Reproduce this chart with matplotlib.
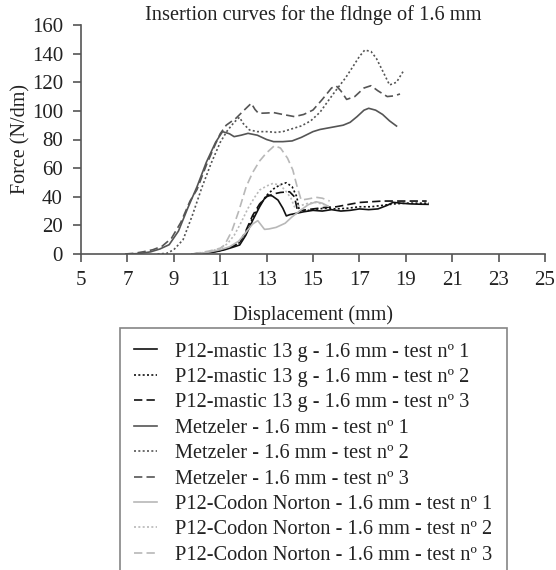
import matplotlib
matplotlib.use("Agg")
import matplotlib.pyplot as plt

plt.rcParams['font.family'] = ['Liberation Serif', 'DejaVu Serif']

# Metzeler - 1.6 mm
metz1_x = [7.0, 7.5, 8.0, 8.4, 8.8, 9.2, 9.6, 10.0, 10.4, 10.8, 11.1, 11.4, 11.6, 11.9, 12.2, 12.6, 13.0, 13.3,
           13.7, 14.1, 14.5, 15.0, 15.3, 15.8, 16.3, 16.6, 16.9, 17.2, 17.4, 17.7, 18.0, 18.3, 18.6]
metz1_y = [0, 0.3, 1.5, 3.5, 6.5, 16, 32, 47, 64, 78, 85.5, 84, 82, 83, 84.3, 83, 80, 78.5,
           78.5, 79, 81.5, 85.5, 87, 88.5, 90, 92, 96, 100.5, 101.8, 100.5, 97.5, 93, 89.4]
metz2_x = [8.3, 8.7, 9.0, 9.4, 9.8, 10.2, 10.6, 11.0, 11.3, 11.6, 11.83, 12.0, 12.26, 12.6, 13.0, 13.4, 13.7,
           14.1, 14.5, 14.9, 15.3, 15.7, 16.0, 16.4, 16.72, 17.0, 17.23, 17.5, 17.73, 18.0, 18.3, 18.6, 18.88]
metz2_y = [0, 0.5, 3, 10, 27, 46, 63, 78, 86, 92, 95.5, 91, 86.7, 85.5, 85.5, 85, 85.5,
           87.5, 89.5, 93, 99, 108, 114.6, 123, 130.9, 138, 142.5, 141.5, 136.7, 128, 118.1, 120, 127.4]
metz3_x = [6.9, 7.3, 7.7, 8.1, 8.5, 8.9, 9.3, 9.7, 10.0, 10.4, 10.8, 11.0, 11.26, 11.69, 12.0, 12.34, 12.5,
           12.65, 13.0, 13.3, 13.7, 14.2, 14.6, 15.0, 15.4, 15.8, 16.0, 16.2, 16.45, 16.8, 17.2, 17.5, 17.8,
           18.2, 18.5, 18.75]
metz3_y = [0, 0.5, 1.6, 3, 5.5, 11, 22, 37, 45, 62, 77, 84, 90, 95, 100, 105.3, 101,
           98.3, 98.5, 98.8, 97.5, 96, 97.5, 100.6, 108, 116, 117.5, 114, 108, 110, 116, 117.6, 114,
           110, 110.5, 111.8]

# P12-mastic 13 g - 1.6 mm
mast1_x = [9.8, 10.3, 10.8, 11.2, 11.5, 11.84, 12.1, 12.41, 12.7, 12.9, 13.06, 13.25, 13.49, 13.7, 13.85, 14.0,
           14.28, 14.6, 15.0, 15.4, 15.8, 16.2, 16.6, 17.0, 17.4, 17.8, 18.2, 18.45, 18.8, 19.2, 19.6, 19.96]
mast1_y = [0, 0.5, 1.5, 3, 4.5, 6.3, 13, 23.8, 33, 38.5, 41.2, 40.5, 37.7, 32, 26.6, 27.5,
           28.4, 29.5, 30.5, 30, 31, 30, 30.5, 31.5, 31, 31.5, 34, 36.1, 35.5, 35, 34.8, 34.7]
mast2_x = [9.8, 10.5, 11.0, 11.5, 11.84, 12.1, 12.4, 12.7, 13.0, 13.3, 13.6, 13.85, 14.1, 14.3, 14.42, 14.6,
           15.0, 15.5, 16.0, 16.5, 17.0, 17.5, 18.0, 18.5, 19.0, 19.5, 20.0]
mast2_y = [0, 1, 2.5, 5, 8, 15, 25, 34, 41, 45.5, 48.5, 49.8, 47, 40, 29.5, 30,
           31, 32, 31.5, 32, 33, 33, 34, 35, 35.5, 35.5, 35.5]
mast3_x = [9.8, 10.5, 11.0, 11.5, 11.84, 12.1, 12.4, 12.7, 13.0, 13.3, 13.6, 13.99, 14.2, 14.35, 14.5,
           15.0, 15.5, 16.0, 16.5, 17.0, 17.5, 18.0, 18.5, 19.0, 19.5, 19.9]
mast3_y = [0, 1, 2.5, 5, 8, 16, 27, 35, 40, 42, 43, 43.5, 40, 29, 30.5,
           31.5, 32.5, 33, 34.5, 36, 36.5, 37, 37, 37, 37, 37]

# P12-Codon Norton - 1.6 mm
codon1_x = [9.8, 10.4, 11.0, 11.4, 11.8, 12.1, 12.4, 12.62, 12.91, 13.1, 13.41, 13.8, 14.1, 14.5, 14.8,
            15.14, 15.4, 15.64]
codon1_y = [0, 1, 3, 5, 9, 15, 21, 23.3, 17.2, 17.5, 18.6, 21.5, 26, 31, 34.5,
            36.5, 35.5, 33.5]
codon2_x = [9.8, 10.5, 11.0, 11.3, 11.6, 11.9, 12.2, 12.5, 12.7, 13.0, 13.27, 13.6, 13.85, 14.05, 14.2,
            14.5, 14.8, 15.1, 15.4, 15.7]
codon2_y = [0, 1.5, 4, 7, 13, 22, 32, 40, 44.7, 47.5, 49.3, 48, 43.5, 39, 33,
            34, 35.5, 36, 35, 33]
codon3_x = [9.8, 10.5, 11.0, 11.19, 11.5, 11.8, 12.12, 12.4, 12.7, 12.98, 13.34, 13.6, 13.9, 14.13, 14.3,
            14.49, 14.8, 15.14, 15.4, 15.72]
codon3_y = [0, 2, 4, 6.3, 16, 30, 47, 57, 65, 70.4, 75.7, 74, 67, 58.7, 48,
            37.7, 38.5, 39.6, 39, 37]

labels = [
    "P12-mastic 13 g - 1.6 mm - test nº 1",
    "P12-mastic 13 g - 1.6 mm - test nº 2",
    "P12-mastic 13 g - 1.6 mm - test nº 3",
    "Metzeler - 1.6 mm - test nº 1",
    "Metzeler - 1.6 mm - test nº 2",
    "Metzeler - 1.6 mm - test nº 3",
    "P12-Codon Norton - 1.6 mm - test nº 1",
    "P12-Codon Norton - 1.6 mm - test nº 2",
    "P12-Codon Norton - 1.6 mm - test nº 3",
]
x_ticks = [5, 7, 9, 11, 13, 15, 17, 19, 21, 23, 25]
y_ticks = [0, 20, 40, 60, 80, 100, 120, 140, 160]

series = [
    (mast1_x, mast1_y), (mast2_x, mast2_y), (mast3_x, mast3_y),
    (metz1_x, metz1_y), (metz2_x, metz2_y), (metz3_x, metz3_y),
    (codon1_x, codon1_y), (codon2_x, codon2_y), (codon3_x, codon3_y),
]
colors = ['#111111'] * 3 + ['#555555'] * 3 + ['#b8b8b8'] * 3
styles = ['-', (0, (1.2, 1.4)), (0, (5, 2.5))] * 3

TXT = '#222222'
W, H = 556, 570
fig = plt.figure(figsize=(W / 100, H / 100), dpi=100)
ax = fig.add_axes([81 / W, 1 - 254 / H, (545 - 81) / W, (254 - 25) / H])

handles = []
for (xs, ys), c, ls, lab in zip(series, colors, styles, labels):
    h, = ax.plot(xs, ys, color=c, linestyle=ls, linewidth=1.2, label=lab)
    handles.append(h)

ax.set_xlim(5, 25)
ax.set_ylim(0, 160)
ax.set_xticks(x_ticks)
ax.set_yticks(y_ticks)
for s in ['top', 'right']:
    ax.spines[s].set_visible(False)
for s in ['left', 'bottom']:
    ax.spines[s].set_color('#555555')
    ax.spines[s].set_linewidth(1.2)
ax.tick_params(axis='both', direction='out', length=6, width=1.2, color='#555555',
               labelsize=15, labelcolor=TXT)
ax.tick_params(axis='x', pad=6)
ax.tick_params(axis='y', pad=7)

ax.set_title("Insertion curves for the fldnge of 1.6 mm", fontsize=14.7, color=TXT, pad=1)
ax.set_xlabel("Displacement (mm)", fontsize=14.5, color=TXT, labelpad=11)
ax.set_ylabel("Force (N/dm)", fontsize=14.5, color=TXT, labelpad=1)

leg = fig.legend(handles=handles, loc='upper left', bbox_to_anchor=(120 / W, 1 - 328 / H),
                 prop={'size': 14.7}, frameon=True, fancybox=False, edgecolor='#666666',
                 handlelength=1.1, handletextpad=0.9, labelspacing=0.3, borderpad=0.7,
                 borderaxespad=0)
leg.get_frame().set_linewidth(1.2)
for t in leg.get_texts():
    t.set_color(TXT)

fig.savefig("out.png", dpi=100)
